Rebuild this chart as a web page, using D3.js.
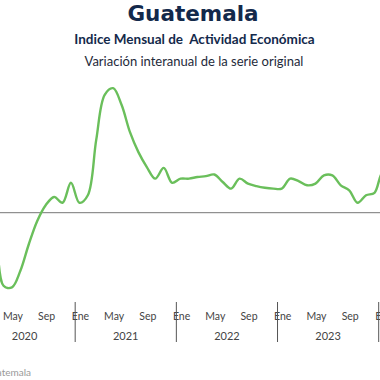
<!DOCTYPE html>
<html><head><meta charset="utf-8">
<script src="https://cdn.jsdelivr.net/npm/d3@7"></script>
<style>html,body{margin:0;padding:0;background:#fff;}svg{display:block;}</style>
</head><body>
<svg id="c" width="380" height="380"></svg>
<script>
const years = ["2020","2021","2022","2023","2024"];
const monthNames = ["Ene","Feb","Mar","Abr","May","Jun","Jul","Ago","Sep","Oct","Nov","Dic"];
const tickMonths = ["Ene","May","Sep"];
const values2020 = [3.5, 3.0, -1.0, -8.8, -9.0, -7.0, -3.8, -1.0, 0.9, 1.9, 1.2, 3.6];
const values2021 = [1.2, 2.1, 8.8, 14.2, 15.0, 13.0, 9.7, 7.3, 5.5, 4.1, 5.4, 3.6];
const values2022 = [4.1, 4.1, 4.3, 4.4, 4.6, 3.7, 2.9, 4.1, 3.5, 3.2, 3.0, 2.9];
const values2023 = [2.9, 4.1, 3.8, 3.3, 3.5, 4.5, 4.5, 3.3, 2.7, 1.2, 2.1, 2.4];
const values2024 = [4.9, 4.5];
const title = "Guatemala";
const subtitle = "Indice Mensual de  Actividad Económica";
const subtitle2 = "Variación interanual de la serie original";
const source = "Fuente: Banco de Guatemala";

const series = [values2020, values2021, values2022, values2023, values2024];
const data = [];
series.forEach((arr, yi) => arr.forEach((v, mi) => data.push({key: years[yi] + "-" + mi, year: years[yi], m: monthNames[mi], v})));

const svg = d3.select("#c");
const step = (378.7 + 26) / 48;
const x = d3.scaleBand().domain(data.map(d => d.key)).range([-26, -26 + step * data.length]).padding(0);
const y = d3.scaleLinear().domain([-10, 15]).range([295.7, 88.2]);

svg.append("text").attr("x", 193).attr("y", 21).attr("text-anchor", "middle")
  .attr("font-family", "'DejaVu Sans'").attr("font-weight", "bold").attr("font-size", 21.5)
  .attr("fill", "#13294b").text(title);
svg.append("text").attr("x", 194.5).attr("y", 43.5).attr("text-anchor", "middle")
  .attr("font-family", "Lato").attr("font-weight", "bold").attr("font-size", 13.5)
  .attr("fill", "#13294b").style("white-space", "pre").text(subtitle);
svg.append("text").attr("x", 194).attr("y", 66).attr("text-anchor", "middle")
  .attr("font-family", "Lato").attr("font-size", 13)
  .attr("fill", "#1e2a3a").text(subtitle2);

// zero line
svg.append("line").attr("x1", 0).attr("x2", 380).attr("y1", y(0)).attr("y2", y(0))
  .attr("stroke", "#777").attr("stroke-width", 1);

const line = d3.line().x(d => x(d.key) + x.bandwidth() / 2).y(d => y(d.v)).curve(d3.curveCatmullRom.alpha(0.5));
svg.append("path").datum(data).attr("d", line).attr("fill", "none")
  .attr("stroke", "#6abf5b").attr("stroke-width", 2.4).attr("stroke-linejoin", "round");

// month tick labels
const ax = svg.append("g").attr("font-family", "Lato").attr("fill", "#444");
ax.selectAll("text.m").data(data.filter(d => tickMonths.includes(d.m))).join("text")
  .attr("class", "m").attr("x", d => x(d.key) + x.bandwidth() / 2 + 1).attr("y", 320)
  .attr("text-anchor", "middle").attr("font-size", 10.5).text(d => d.m);
// year labels
const fullYears = years.filter((yr, i) => series[i].length === 12);
ax.selectAll("text.y").data(fullYears).join("text")
  .attr("class", "y").attr("x", yr => x(yr + "-0") + step * 6).attr("y", 339.5)
  .attr("text-anchor", "middle").attr("font-size", 11).text(yr => yr);
// year separators
svg.selectAll("line.sep").data(years.filter((yr, i) => i > 0)).join("line")
  .attr("class", "sep").attr("x1", yr => x(yr + "-0")).attr("x2", yr => x(yr + "-0"))
  .attr("y1", 302).attr("y2", 342).attr("stroke", "#555").attr("stroke-width", 1);

svg.append("text").attr("x", 31).attr("y", 376).attr("text-anchor", "end")
  .attr("font-family", "Lato").attr("font-size", 10).attr("fill", "#999").text(source);
</script>
</body></html>
